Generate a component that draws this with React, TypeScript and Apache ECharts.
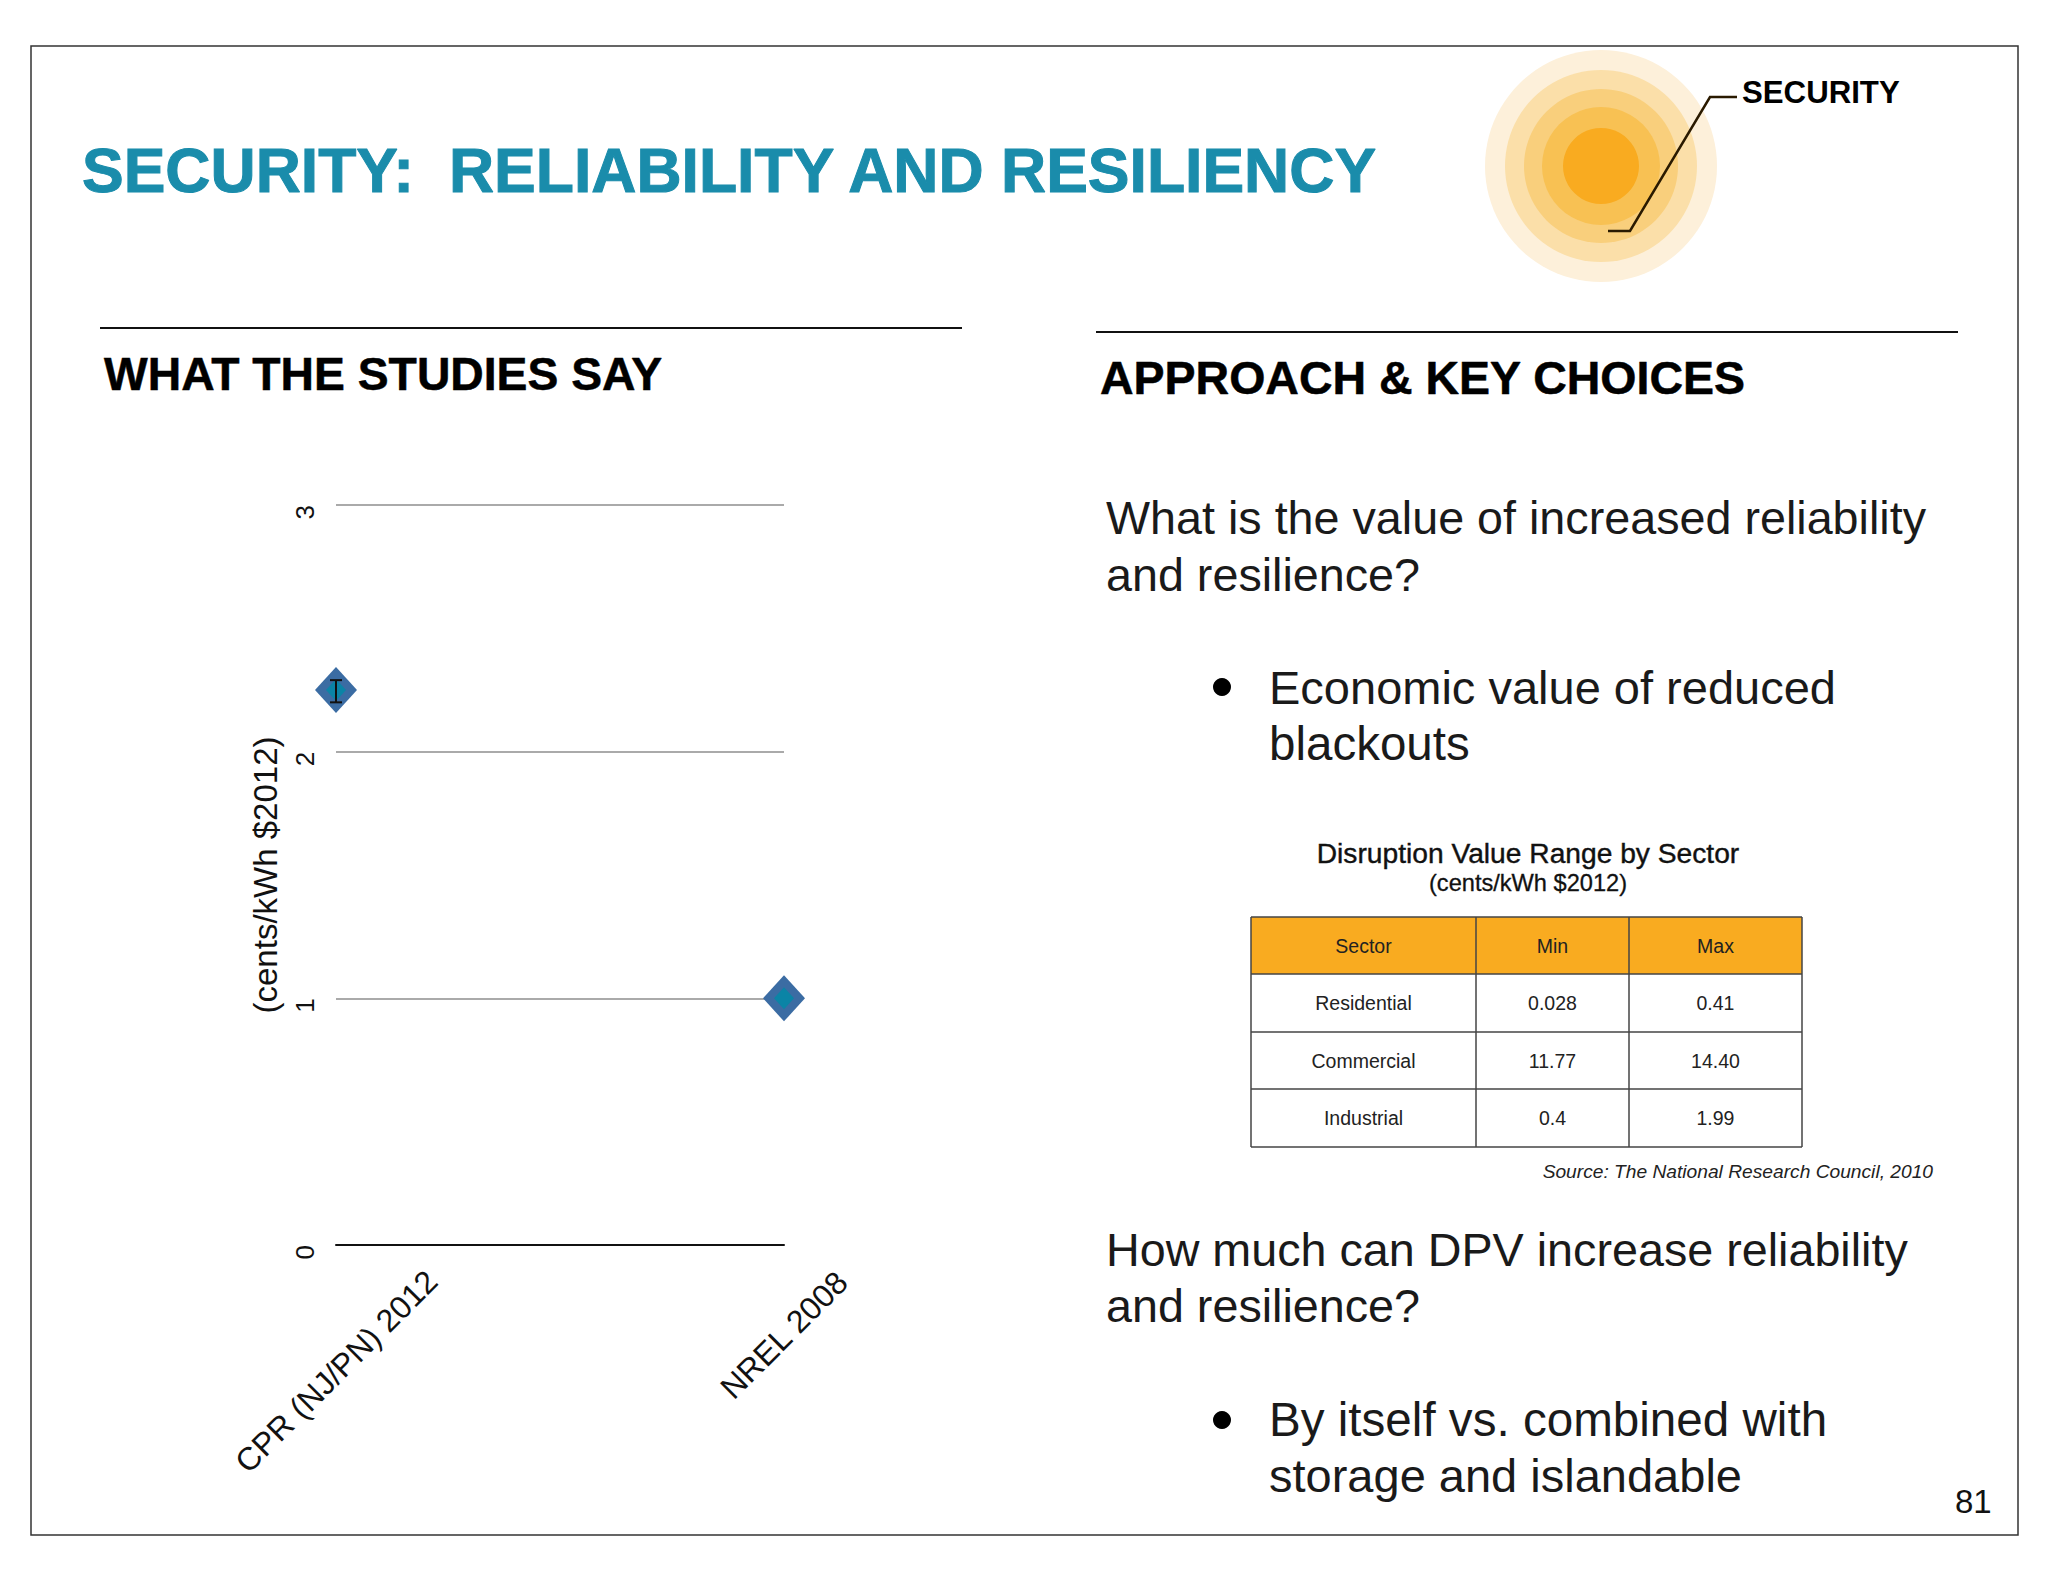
import React, { useEffect, useRef } from "react";
import * as echarts from "echarts";

const studies = ["CPR (NJ/PN) 2012", "NREL 2008"];
const studyValues = [2.25, 1.0];
const rangeBars = [[0, 2.2, 2.29]];
const tableTitle = "Disruption Value Range by Sector";
const tableSubtitle = "(cents/kWh $2012)";
const tableHeader = ["Sector", "Min", "Max"];
const tableRows = [
  ["Residential", "0.028", "0.41"],
  ["Commercial", "11.77", "14.40"],
  ["Industrial", "0.4", "1.99"],
];
const FONT = '"Liberation Sans", Arial, sans-serif';

const txt = (text: string, x: number, y: number, size: number, o: any = {}) => ({
  type: "text",
  silent: true,
  style: {
    text, x, y,
    font: `${o.style || ""} ${o.weight || "normal"} ${size}px ${FONT}`,
    fill: o.fill || "#1a1a1a",
    textAlign: o.align || "left",
    textVerticalAlign: "middle",
    stroke: o.heavy ? o.fill || "#1a1a1a" : undefined,
    lineWidth: o.heavy || 0,
  },
});

export default function App() {
  const ref = useRef<HTMLDivElement>(null);
  useEffect(() => {
    document.body.style.margin = "0";
    document.body.style.overflow = "hidden";
    const chart = echarts.init(ref.current!, undefined, { renderer: "svg" });
    const colX = [1251, 1476, 1629, 1802];
    const rowY = [917, 974, 1032, 1089, 1147];
    const g: any[] = [];
    g.push({ type: "rect", shape: { x: 31, y: 46, width: 1987, height: 1489 }, style: { fill: "none", stroke: "#333", lineWidth: 1.5 } });
    const sunR = [116, 96, 77, 59, 38];
    const sunC = ["#fdf0da", "#fbdfa9", "#f9cf7c", "#f8c153", "#f9ab20"];
    sunR.forEach((r, i) => g.push({ type: "circle", shape: { cx: 1601, cy: 166, r }, style: { fill: sunC[i] } }));
    g.push({ type: "polyline", shape: { points: [[1608, 231], [1630, 231], [1710, 97], [1737, 97]] }, style: { fill: "none", stroke: "#2a1a00", lineWidth: 2.5 } });
    g.push(txt("SECURITY", 1742, 92, 31.2, { weight: "bold", fill: "#000" }));
    g.push(txt("SECURITY:  RELIABILITY AND RESILIENCY", 82, 170, 62.5, { weight: "bold", fill: "#1a8cab", heavy: 1 }));
    g.push({ type: "line", shape: { x1: 100, y1: 328, x2: 962, y2: 328 }, style: { stroke: "#111", lineWidth: 2 } });
    g.push({ type: "line", shape: { x1: 1096, y1: 332, x2: 1958, y2: 332 }, style: { stroke: "#111", lineWidth: 2 } });
    g.push(txt("WHAT THE STUDIES SAY", 104, 374, 46.3, { weight: "bold", fill: "#000", heavy: 0.5 }));
    g.push(txt("APPROACH & KEY CHOICES", 1100, 378, 46.5, { weight: "bold", fill: "#000", heavy: 0.5 }));
    g.push(txt("What is the value of increased reliability", 1106, 518, 46.7));
    g.push(txt("and resilience?", 1106, 575, 46.7));
    g.push({ type: "circle", shape: { cx: 1222, cy: 687, r: 9 }, style: { fill: "#000" } });
    g.push(txt("Economic value of reduced", 1269, 687, 47));
    g.push(txt("blackouts", 1269, 743, 47.5));
    g.push(txt("How much can DPV increase reliability", 1106, 1250, 46.7));
    g.push(txt("and resilience?", 1106, 1306, 46.7));
    g.push({ type: "circle", shape: { cx: 1222, cy: 1420, r: 9 }, style: { fill: "#000" } });
    g.push(txt("By itself vs. combined with", 1269, 1419, 47.6));
    g.push(txt("storage and islandable", 1269, 1475, 47));
    g.push(txt(tableTitle, 1528, 853, 28.2, { align: "center", fill: "#111", heavy: 0.4 }));
    g.push(txt(tableSubtitle, 1528, 883, 23.6, { align: "center", fill: "#111", heavy: 0.3 }));
    g.push({ type: "rect", shape: { x: colX[0], y: rowY[0], width: colX[3] - colX[0], height: rowY[1] - rowY[0] }, style: { fill: "#f9ab20" } });
    rowY.forEach((y) => g.push({ type: "line", shape: { x1: colX[0], y1: y, x2: colX[3], y2: y }, style: { stroke: "#444", lineWidth: 1.5 } }));
    colX.forEach((x) => g.push({ type: "line", shape: { x1: x, y1: rowY[0], x2: x, y2: rowY[4] }, style: { stroke: "#444", lineWidth: 1.5 } }));
    [tableHeader, ...tableRows].forEach((row, r) =>
      row.forEach((c, i) =>
        g.push(txt(c, (colX[i] + colX[i + 1]) / 2, (rowY[r] + rowY[r + 1]) / 2, 19.5, { align: "center", fill: "#222" }))
      )
    );
    g.push(txt("Source: The National Research Council, 2010", 1933, 1171, 19.2, { align: "right", style: "italic", fill: "#222" }));
    g.push(txt("81", 1955, 1501, 33, { fill: "#111" }));

    chart.setOption({
      animation: false,
      backgroundColor: "#fff",
      grid: { left: 336, top: 505, width: 448, height: 740 },
      xAxis: {
        type: "category",
        boundaryGap: false,
        data: [
          { value: studies[0], textStyle: { align: "center", verticalAlign: "top", lineHeight: 52, padding: [0, 51, 0, 0] } },
          { value: studies[1], textStyle: { align: "center", verticalAlign: "middle" } },
        ],
        axisLine: { onZero: true, lineStyle: { color: "#111", width: 2 } },
        axisTick: { show: false },
        axisLabel: { interval: 0, rotate: 45, margin: 90, align: "center", verticalAlign: "middle", color: "#111", fontSize: 32, fontFamily: FONT },
      },
      yAxis: {
        type: "value", min: 0, max: 3, interval: 1,
        name: "(cents/kWh $2012)", nameLocation: "middle", nameGap: 54,
        nameRotate: 90,
        nameTextStyle: { fontSize: 33, color: "#111", fontFamily: FONT },
        axisLine: { show: false },
        axisTick: { show: false },
        splitLine: { lineStyle: { color: "#aaa", width: 2 } },
        axisLabel: { rotate: 90, margin: 31, align: "right", verticalAlign: "middle", color: "#111", fontSize: 26, fontFamily: FONT },
      },
      series: [
        {
          type: "scatter", symbol: "diamond", symbolSize: [42, 46], clip: false, z: 3,
          data: studyValues.map((v, i) => [i, v]),
          itemStyle: { color: "#3b6ca3", opacity: 1 },
        },
        {
          type: "scatter", symbol: "diamond", symbolSize: [20, 22], clip: false, z: 4,
          data: studyValues.map((v, i) => [i, v]),
          itemStyle: { color: "#0b84a6", opacity: 1 },
        },
        {
          type: "custom", z: 5, clip: false, data: rangeBars,
          renderItem: (_: any, api: any) => {
            const hi = api.coord([api.value(0), api.value(2)]);
            const lo = api.coord([api.value(0), api.value(1)]);
            const s = { stroke: "#111", lineWidth: 2 };
            return {
              type: "group",
              children: [
                { type: "line", shape: { x1: hi[0], y1: hi[1], x2: lo[0], y2: lo[1] }, style: s },
                { type: "line", shape: { x1: hi[0] - 6, y1: hi[1], x2: hi[0] + 6, y2: hi[1] }, style: s },
                { type: "line", shape: { x1: lo[0] - 6, y1: lo[1], x2: lo[0] + 6, y2: lo[1] }, style: s },
              ],
            };
          },
        },
      ],
      graphic: { elements: g },
    });
    return () => chart.dispose();
  }, []);
  return <div ref={ref} style={{ width: 2048, height: 1582 }} />;
}
